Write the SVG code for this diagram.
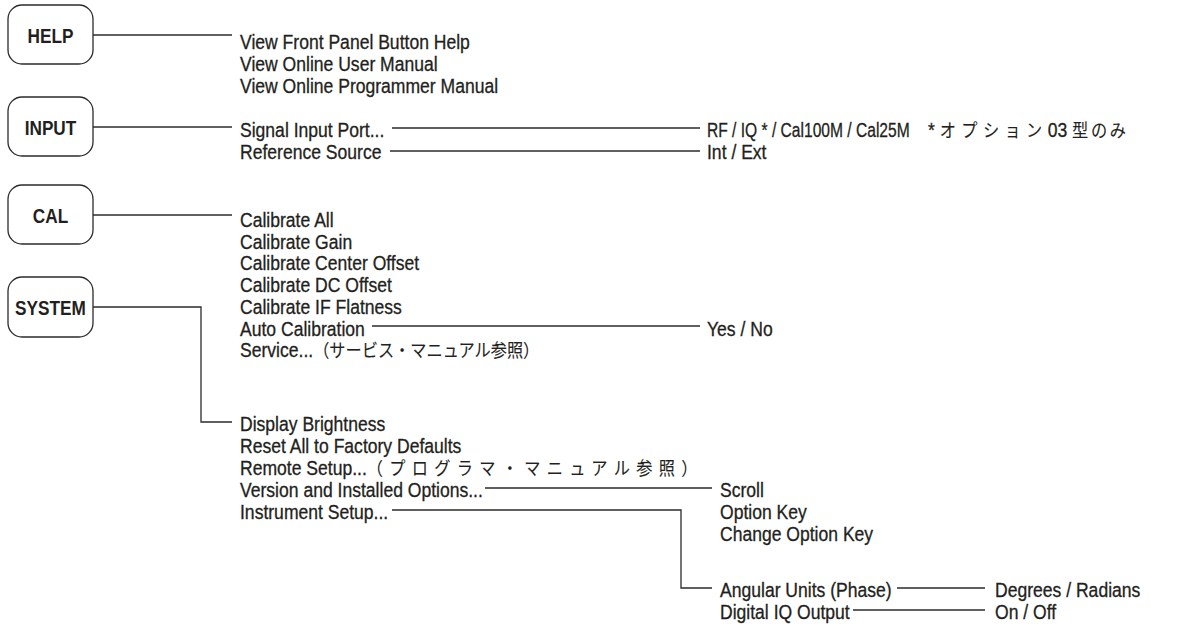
<svg xmlns="http://www.w3.org/2000/svg" width="1194" height="639" viewBox="0 0 1194 639">
<style>
.box{fill:none;stroke:#2b2b2b;stroke-width:1.3}
.conn line,.conn polyline{stroke:#2b2b2b;stroke-width:1.3;fill:none}
.t{font-family:"Liberation Sans",Arial,sans-serif;font-size:19.5px;fill:#231f20;stroke:#231f20;stroke-width:0.3}
.b{font-family:"Liberation Sans",Arial,sans-serif;font-size:20.5px;font-weight:bold;fill:#231f20;text-anchor:middle}
.jp{font-family:"Noto Sans CJK JP",sans-serif;font-size:18px;stroke-width:0.1}
</style>
<rect width="1194" height="639" fill="#ffffff"/>
<g id="help">
<rect class="box" x="8" y="5" width="85" height="59" rx="14"/>
<text class="b" transform="translate(50.5,42.5) scale(0.84,1)">HELP</text>
</g>
<g id="input">
<rect class="box" x="8" y="97" width="85" height="59" rx="14"/>
<text class="b" transform="translate(50.5,134.5) scale(0.84,1)">INPUT</text>
</g>
<g id="cal">
<rect class="box" x="8" y="185" width="85" height="59" rx="14"/>
<text class="b" transform="translate(50.5,222.5) scale(0.84,1)">CAL</text>
</g>
<g id="system">
<rect class="box" x="8" y="277" width="85" height="60" rx="14"/>
<text class="b" transform="translate(50.5,314.5) scale(0.84,1)">SYSTEM</text>
</g>
<g id="help-items">
<text class="t" transform="translate(240,48.5) scale(0.9,1)">View Front Panel Button Help</text>
<text class="t" transform="translate(240,70.5) scale(0.9,1)">View Online User Manual</text>
<text class="t" transform="translate(240,92.5) scale(0.9,1)">View Online Programmer Manual</text>
</g>
<g id="input-items">
<text class="t" transform="translate(240,137) scale(0.9,1)">Signal Input Port...</text>
<text class="t" transform="translate(240,159) scale(0.9,1)">Reference Source</text>
<text class="t" transform="translate(707,137) scale(0.8,1)">RF / IQ * / Cal100M / Cal25M</text>
<text class="t" transform="translate(928,137) scale(0.9,1)">* <tspan class="jp" letter-spacing="6">オプション</tspan>03 <tspan class="jp" letter-spacing="3">型のみ</tspan></text>
<text class="t" transform="translate(707,159) scale(0.9,1)">Int / Ext</text>
</g>
<g id="cal-items">
<text class="t" transform="translate(240,227) scale(0.9,1)">Calibrate All</text>
<text class="t" transform="translate(240,248.7) scale(0.9,1)">Calibrate Gain</text>
<text class="t" transform="translate(240,270.4) scale(0.9,1)">Calibrate Center Offset</text>
<text class="t" transform="translate(240,292.1) scale(0.9,1)">Calibrate DC Offset</text>
<text class="t" transform="translate(240,313.8) scale(0.9,1)">Calibrate IF Flatness</text>
<text class="t" transform="translate(240,335.5) scale(0.9,1)">Auto Calibration</text>
<text class="t" transform="translate(240,357.2) scale(0.9,1)">Service...<tspan class="jp">（サービス・マニュアル参照）</tspan></text>
<text class="t" transform="translate(707,335.5) scale(0.9,1)">Yes / No</text>
</g>
<g id="system-items">
<text class="t" transform="translate(240,431) scale(0.9,1)">Display Brightness</text>
<text class="t" transform="translate(240,453) scale(0.9,1)">Reset All to Factory Defaults</text>
<text class="t" transform="translate(240,475) scale(0.9,1)">Remote Setup...<tspan class="jp" letter-spacing="7">（プログラマ・マニュアル参照）</tspan></text>
<text class="t" transform="translate(240,497) scale(0.9,1)">Version and Installed Options...</text>
<text class="t" transform="translate(240,519) scale(0.9,1)">Instrument Setup...</text>
</g>
<g id="version-items">
<text class="t" transform="translate(720,497) scale(0.9,1)">Scroll</text>
<text class="t" transform="translate(720,519) scale(0.9,1)">Option Key</text>
<text class="t" transform="translate(720,541) scale(0.9,1)">Change Option Key</text>
</g>
<g id="instrument-items">
<text class="t" transform="translate(720,597) scale(0.9,1)">Angular Units (Phase)</text>
<text class="t" transform="translate(720,619) scale(0.9,1)">Digital IQ Output</text>
<text class="t" transform="translate(995,597) scale(0.9,1)">Degrees / Radians</text>
<text class="t" transform="translate(995,619) scale(0.9,1)">On / Off</text>
</g>
<g class="conn" id="connectors">
<line x1="93" y1="35" x2="232" y2="35"/>
<line x1="93" y1="127" x2="232" y2="127"/>
<line x1="93" y1="215" x2="232" y2="215"/>
<polyline points="93,307 201,307 201,422 232,422"/>
<line x1="392" y1="128" x2="700" y2="128"/>
<line x1="390" y1="151" x2="700" y2="151"/>
<line x1="372" y1="326" x2="700" y2="326"/>
<line x1="485" y1="488" x2="712" y2="488"/>
<polyline points="392,510 681,510 681,588 712,588"/>
<line x1="897" y1="588" x2="985" y2="588"/>
<line x1="853" y1="610" x2="985" y2="610"/>
</g>
</svg>
